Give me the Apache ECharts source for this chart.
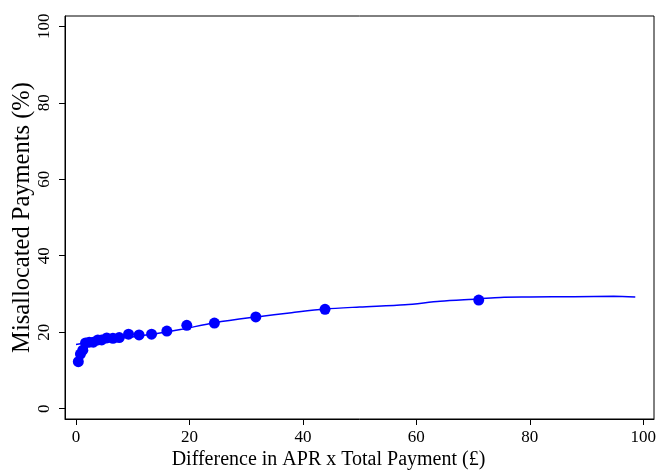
<!DOCTYPE html>
<html>
<head>
<meta charset="utf-8">
<script src="https://cdn.jsdelivr.net/npm/echarts@6/dist/echarts.min.js"></script>
<style>
  html, body { margin: 0; padding: 0; background: #fff; }
  #main { width: 658px; height: 471px; }
</style>
</head>
<body>
<div id="main"></div>
<script>
  // binned scatter points
  var binX = [0.41, 0.78, 1.2, 1.68, 2.33, 3.05, 3.85, 4.53, 5.42, 6.51, 7.62, 9.26, 11.12, 13.32, 16.02, 19.53, 24.4, 31.7, 43.9, 71.0];
  var binY = [12.3, 14.3, 15.3, 17.2, 17.4, 17.4, 18.0, 18.0, 18.5, 18.4, 18.6, 19.5, 19.3, 19.5, 20.3, 21.8, 22.4, 24.0, 26.0, 28.4];
  // smoothed fit line
  var fitX = [0, 4, 9, 14, 18.4, 24.5, 31.8, 38, 43.8, 50, 58, 64.2, 70.9, 74.8, 80, 87.8, 94.8, 98.6];
  var fitY = [16.8, 17.7, 18.6, 19.6, 20.7, 22.5, 24.0, 25.1, 26.05, 26.6, 27.2, 28.1, 28.7, 29.1, 29.2, 29.3, 29.4, 29.2];
  var xTicks = [0, 20, 40, 60, 80, 100];
  var yTicks = [0, 20, 40, 60, 80, 100];

  var serif = 'Liberation Serif';
  var blue = '#0000ff';

  var myChart = echarts.init(document.getElementById('main'));
  var option = {
    animation: false,
    backgroundColor: '#fff',
    grid: {
      left: 65,
      right: 4,
      top: 16,
      bottom: 52,
      outerBoundsMode: 'none',
      show: true,
      borderColor: '#000',
      borderWidth: 1
    },
    xAxis: {
      type: 'value',
      min: -1.94,
      max: 101.9,
      name: 'Difference in APR x Total Payment (£)',
      nameLocation: 'middle',
      nameGap: 31,
      nameMoveOverlap: false,
      // title is centred on the whole picture, not on the plot
      nameTextStyle: { fontFamily: serif, fontSize: 20, color: '#000', padding: [0, 62, 0, 0] },
      axisLine: { show: true, onZero: false, lineStyle: { color: '#000', width: 1 } },
      axisTick: { show: true, length: 6, customValues: xTicks, lineStyle: { color: '#000' } },
      axisLabel: { customValues: xTicks, fontFamily: serif, fontSize: 17, color: '#000', margin: 10 },
      splitLine: { show: false }
    },
    yAxis: {
      type: 'value',
      min: -2.69,
      max: 102.69,
      name: 'Misallocated Payments (%)',
      nameLocation: 'middle',
      nameGap: 30,
      nameMoveOverlap: false,
      nameTextStyle: { fontFamily: serif, fontSize: 24.5, color: '#000' },
      axisLine: { show: true, onZero: false, lineStyle: { color: '#000', width: 1 } },
      axisTick: { show: true, length: 6, customValues: yTicks, lineStyle: { color: '#000' } },
      axisLabel: { customValues: yTicks, rotate: 90, fontFamily: serif, fontSize: 17, color: '#000', margin: 12 },
      splitLine: { show: false }
    },
    series: [
      {
        name: 'fit',
        type: 'line',
        data: fitX.map(function (x, i) { return [x, fitY[i]]; }),
        showSymbol: false,
        smooth: 0.3,
        lineStyle: { color: blue, width: 1.5 },
        z: 2
      },
      {
        name: 'bins',
        type: 'scatter',
        data: binX.map(function (x, i) { return [x, binY[i]]; }),
        symbolSize: 11,
        itemStyle: { color: blue, opacity: 1 },
        z: 3
      }
    ]
  };
  myChart.setOption(option);
</script>
</body>
</html>
